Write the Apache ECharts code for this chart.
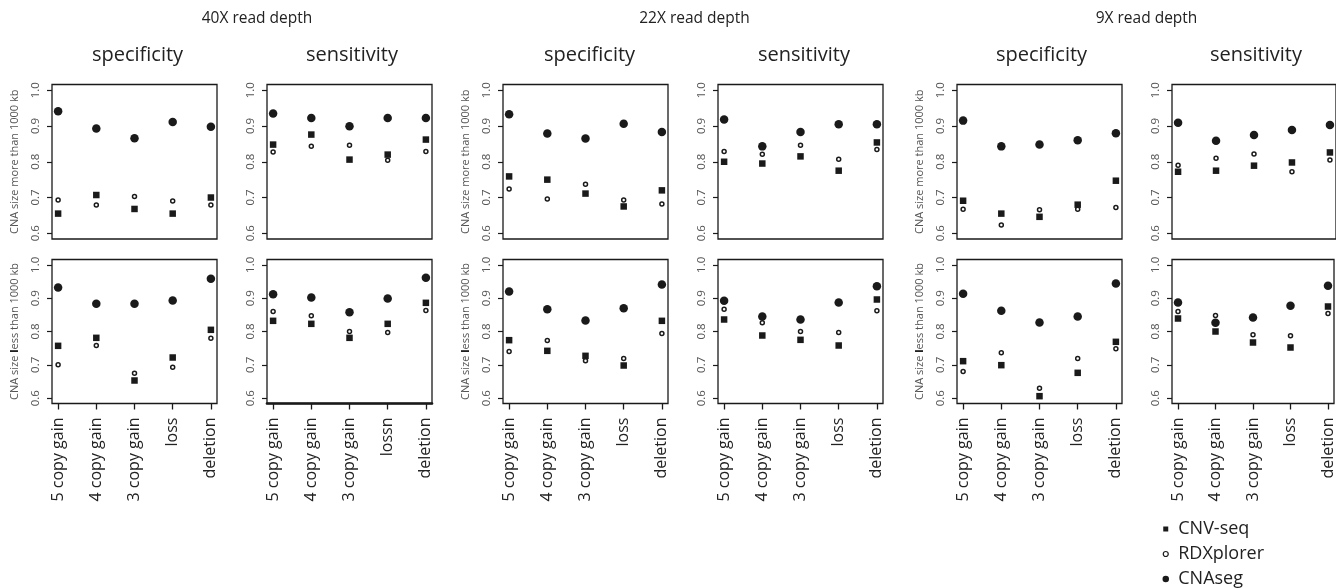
<!DOCTYPE html>
<html><head><meta charset="utf-8">
<script src="https://cdn.jsdelivr.net/npm/echarts@6/dist/echarts.min.js"></script>
<style>html,body{margin:0;padding:0;background:#fff}#c{width:1336px;height:588px}</style>
</head><body><div id="c"></div><script>
const categories = ['5 copy gain','4 copy gain','3 copy gain','loss','deletion'];
const categories40Sens = ['5 copy gain','4 copy gain','3 copy gain','lossn','deletion'];
const xPositions = [1,2,3,4,5];
const yTicks = [0.6,0.7,0.8,0.9,1.0];
const methods = ['CNV-seq','RDXplorer','CNAseg'];
const depthTitles = ['40X read depth','22X read depth','9X read depth'];
const metricTitles = ['specificity','sensitivity'];
const rowNames = ['CNA size more than 1000 kb','CNA size {b|l}ess than 1000 kb'];

// 40X read depth
const cnv40SpecMore = [0.655,0.707,0.668,0.655,0.700];
const rdx40SpecMore = [0.693,0.679,0.703,0.690,0.679];
const cna40SpecMore = [0.941,0.893,0.866,0.911,0.898];
const cnv40SensMore = [0.848,0.876,0.806,0.820,0.862];
const rdx40SensMore = [0.827,0.843,0.846,0.804,0.829];
const cna40SensMore = [0.935,0.922,0.899,0.922,0.922];
const cnv40SpecLess = [0.757,0.781,0.653,0.722,0.805];
const rdx40SpecLess = [0.700,0.758,0.675,0.693,0.780];
const cna40SpecLess = [0.932,0.883,0.883,0.893,0.958];
const cnv40SensLess = [0.832,0.823,0.781,0.823,0.886];
const rdx40SensLess = [0.860,0.847,0.800,0.797,0.863];
const cna40SensLess = [0.912,0.902,0.858,0.899,0.961];
// 22X read depth
const cnv22SpecMore = [0.759,0.750,0.711,0.675,0.720];
const rdx22SpecMore = [0.724,0.696,0.737,0.693,0.682];
const cna22SpecMore = [0.933,0.879,0.865,0.906,0.883];
const cnv22SensMore = [0.800,0.795,0.815,0.775,0.854];
const rdx22SensMore = [0.829,0.821,0.846,0.807,0.834];
const cna22SensMore = [0.918,0.843,0.883,0.905,0.905];
const cnv22SpecLess = [0.774,0.742,0.727,0.698,0.832];
const rdx22SpecLess = [0.740,0.773,0.712,0.719,0.794];
const cna22SpecLess = [0.920,0.867,0.833,0.870,0.941];
const cnv22SensLess = [0.836,0.788,0.775,0.758,0.896];
const rdx22SensLess = [0.867,0.826,0.800,0.797,0.862];
const cna22SensLess = [0.892,0.845,0.836,0.887,0.936];
// 9X read depth
const cnv9SpecMore = [0.691,0.655,0.646,0.680,0.747];
const rdx9SpecMore = [0.667,0.623,0.666,0.667,0.672];
const cna9SpecMore = [0.915,0.843,0.848,0.860,0.880];
const cnv9SensMore = [0.772,0.775,0.789,0.798,0.826];
const rdx9SensMore = [0.790,0.810,0.822,0.772,0.805];
const cna9SensMore = [0.909,0.859,0.875,0.889,0.903];
const cnv9SpecLess = [0.711,0.699,0.606,0.676,0.769];
const rdx9SpecLess = [0.680,0.736,0.630,0.719,0.748];
const cna9SpecLess = [0.913,0.862,0.827,0.845,0.944];
const cnv9SensLess = [0.839,0.800,0.767,0.752,0.875];
const rdx9SensLess = [0.860,0.848,0.790,0.787,0.854];
const cna9SensLess = [0.887,0.826,0.842,0.877,0.937];

const panels = [
  {d:0,m:0,r:0,vals:[cnv40SpecMore,rdx40SpecMore,cna40SpecMore],cats:categories},
  {d:0,m:1,r:0,vals:[cnv40SensMore,rdx40SensMore,cna40SensMore],cats:categories40Sens},
  {d:0,m:0,r:1,vals:[cnv40SpecLess,rdx40SpecLess,cna40SpecLess],cats:categories},
  {d:0,m:1,r:1,vals:[cnv40SensLess,rdx40SensLess,cna40SensLess],cats:categories40Sens},
  {d:1,m:0,r:0,vals:[cnv22SpecMore,rdx22SpecMore,cna22SpecMore],cats:categories},
  {d:1,m:1,r:0,vals:[cnv22SensMore,rdx22SensMore,cna22SensMore],cats:categories},
  {d:1,m:0,r:1,vals:[cnv22SpecLess,rdx22SpecLess,cna22SpecLess],cats:categories},
  {d:1,m:1,r:1,vals:[cnv22SensLess,rdx22SensLess,cna22SensLess],cats:categories},
  {d:2,m:0,r:0,vals:[cnv9SpecMore,rdx9SpecMore,cna9SpecMore],cats:categories},
  {d:2,m:1,r:0,vals:[cnv9SensMore,rdx9SensMore,cna9SensMore],cats:categories},
  {d:2,m:0,r:1,vals:[cnv9SpecLess,rdx9SpecLess,cna9SpecLess],cats:categories},
  {d:2,m:1,r:1,vals:[cnv9SensLess,rdx9SensLess,cna9SensLess],cats:categories}
];

const colLeft = [[52,267],[503,718],[957,1172]];
const boxW = 165;
const rowTop = [84.5,259.5];
const rowH = [154.5,144];
const depthCenter = [257,694.5,1146.5];
const metricCenter = [[137.5,352],[589.5,804],[1041.5,1256]];
const FONT = '"Open Sans", "Noto Sans", sans-serif';
const INK = '#1a1a1a';

const symbolStyles = [
  {symbol:'rect', symbolSize:6.5, itemStyle:{color:INK, opacity:1}},
  {symbol:'circle', symbolSize:4, itemStyle:{color:'#fff', borderColor:INK, borderWidth:1.5, opacity:1}},
  {symbol:'circle', symbolSize:8.5, itemStyle:{color:INK, opacity:1}}
];

const grid = [], xAxis = [], yAxis = [], series = [];
panels.forEach((p, i) => {
  grid.push({left: colLeft[p.d][p.m], top: rowTop[p.r], width: boxW, height: rowH[p.r],
    show: true, borderColor: INK, borderWidth: 1.3, backgroundColor: 'transparent', containLabel: false});
  const bottom = p.r === 1;
  const cats = p.cats;
  xAxis.push({type:'value', gridIndex:i, min:0.84, max:5.16,
    axisLine:{show: bottom && p.d===0 && p.m===1, lineStyle:{color:INK, width:2.6}},
    splitLine:{show:false},
    axisTick:{show:bottom, customValues:xPositions, length:6, lineStyle:{color:INK, width:1.3}},
    axisLabel:{show:bottom, customValues:xPositions, rotate:90, margin:14,
      fontFamily:FONT, fontSize:16, color:'#222',
      formatter: v => cats[Math.round(v)-1]}
  });
  yAxis.push({type:'value', gridIndex:i, min:0.584, max:1.016,
    axisLine:{show:false}, splitLine:{show:false},
    axisTick:{show:true, customValues:yTicks, length:5, lineStyle:{color:INK, width:1.2}},
    axisLabel:{show:true, customValues:yTicks, rotate:90, margin:10,
      fontFamily:FONT, fontSize:11.5, color:'#555', formatter: v => v.toFixed(1)},
    name: p.m===0 ? rowNames[p.r] : '', nameLocation:'middle', nameRotate:90, nameGap:32,
    nameTextStyle:{fontFamily:FONT, fontSize:11, color:'#555',
      rich:{b:{fontFamily:FONT, fontSize:11, color:'#000', fontWeight:'bold'}}}
  });
  p.vals.forEach((arr, k) => {
    series.push(Object.assign({type:'scatter', name:methods[k], xAxisIndex:i, yAxisIndex:i,
      data: arr.map((v, j) => [xPositions[j], v]), silent:true, animation:false, z: 3+k}, symbolStyles[k]));
  });
});

const title = [];
depthTitles.forEach((t, d) => title.push({text:t, left:depthCenter[d], top:11, textAlign:'center', padding:0,
  textStyle:{fontFamily:FONT, fontSize:15.5, fontWeight:'normal', color:'#222'}}));
metricTitles.forEach((t, m) => [0,1,2].forEach(d => title.push({text:t, left:metricCenter[d][m], top:45,
  textAlign:'center', padding:0, textStyle:{fontFamily:FONT, fontSize:20, fontWeight:'normal', color:'#222'}})));

const chart = echarts.init(document.getElementById('c'), null, {renderer:'canvas'});
chart.setOption({
  animation:false,
  backgroundColor:'#fff',
  title, grid, xAxis, yAxis, series,
  legend:{orient:'vertical', left:1162.5, top:520, itemWidth:5, itemHeight:5, itemGap:7, padding:0,
    selectedMode:false, textStyle:{fontFamily:FONT, fontSize:18, color:'#222', padding:[0,0,0,5]},
    data:[
      {name:'CNV-seq', icon:'rect', itemStyle:{color:INK, borderWidth:0}},
      {name:'RDXplorer', icon:'circle', itemStyle:{color:'#fff', borderColor:INK, borderWidth:1.2}},
      {name:'CNAseg', icon:'circle', itemStyle:{color:INK, borderColor:INK, borderWidth:1.5}}
    ]}
});
</script></body></html>
